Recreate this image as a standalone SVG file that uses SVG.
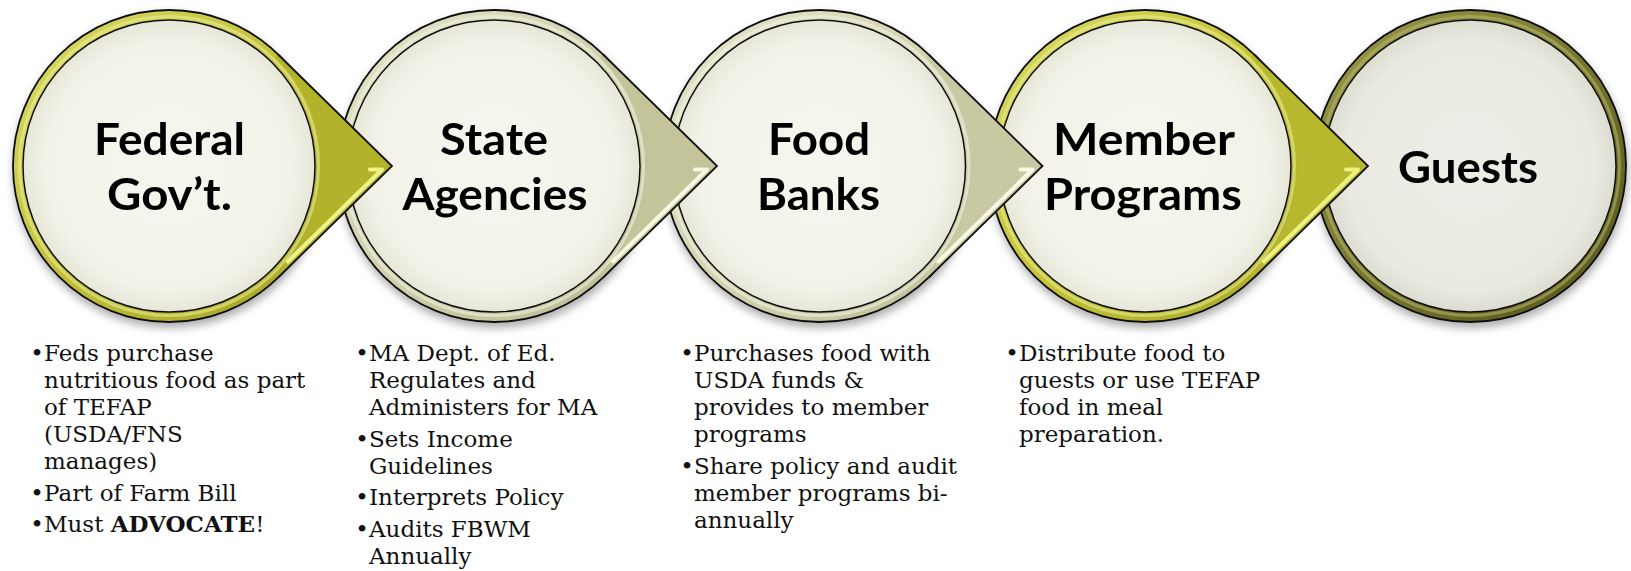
<svg xmlns="http://www.w3.org/2000/svg" width="1631" height="571" viewBox="0 0 1631 571">
  <style>
    .outer { stroke: #111; stroke-width: 1.8; }
    .inner { stroke: #111; stroke-width: 1.5; }
    .bevel { fill: none; stroke-width: 3; opacity: 0.55; }
    .title { font-family: Lato, "Open Sans", "Liberation Sans", sans-serif; font-weight: 700; font-size: 44px; fill: #000; text-anchor: middle; }
    .body { font-family: "DejaVu Serif", "Liberation Serif", serif; font-size: 23px; fill: #111; }
    .dot { font-family: "DejaVu Serif", "Liberation Serif", serif; font-size: 23px; fill: #111; text-anchor: middle; }
    .tail-edge { fill: none; stroke: #111; stroke-width: 1.8; stroke-linejoin: miter; }
    .shine { fill: none; stroke-width: 4; stroke-linecap: round; stroke-linejoin: round; }
  </style>
  <defs>
    <filter id="shadow" x="-20%" y="-20%" width="140%" height="145%">
      <feDropShadow dx="1" dy="5" stdDeviation="4" flood-color="#000" flood-opacity="0.32"/>
    </filter>
    <linearGradient id="ringFed" x1="0" y1="0" x2="1" y2="1">
      <stop offset="0" stop-color="#dcdc6c"/>
      <stop offset="0.5" stop-color="#c0c03a"/>
      <stop offset="1" stop-color="#a3a324"/>
    </linearGradient>
    <linearGradient id="ringState" x1="0" y1="0" x2="1" y2="1">
      <stop offset="0" stop-color="#e4e4cb"/>
      <stop offset="0.5" stop-color="#d0d0ad"/>
      <stop offset="1" stop-color="#b8b88f"/>
    </linearGradient>
    <linearGradient id="ringFood" x1="0" y1="0" x2="1" y2="1">
      <stop offset="0" stop-color="#e6e6ce"/>
      <stop offset="0.5" stop-color="#d4d4b3"/>
      <stop offset="1" stop-color="#bcbc96"/>
    </linearGradient>
    <linearGradient id="ringMem" x1="0" y1="0" x2="1" y2="1">
      <stop offset="0" stop-color="#dada66"/>
      <stop offset="0.5" stop-color="#c5c537"/>
      <stop offset="1" stop-color="#a5a526"/>
    </linearGradient>
    <linearGradient id="ringGuest" x1="0" y1="0" x2="1" y2="1">
      <stop offset="0" stop-color="#9c9c4c"/>
      <stop offset="0.5" stop-color="#76762e"/>
      <stop offset="1" stop-color="#55551a"/>
    </linearGradient>
    <radialGradient id="face" cx="0.5" cy="0.5" r="0.5">
      <stop offset="0" stop-color="#f6f6ef"/>
      <stop offset="0.85" stop-color="#f2f2e8"/>
      <stop offset="1" stop-color="#e6e6d8"/>
    </radialGradient>
    <radialGradient id="faceGuest" cx="0.5" cy="0.5" r="0.5">
      <stop offset="0" stop-color="#eeeee8"/>
      <stop offset="0.85" stop-color="#eaeae2"/>
      <stop offset="1" stop-color="#dcdcd0"/>
    </radialGradient>
  </defs>

  <!-- stage circles, right to left so each pointer can sit over its neighbour -->
  <g id="node-guests" filter="url(#shadow)">
    <circle class="outer" cx="1470" cy="166" r="156" fill="url(#ringGuest)"/>
    <circle class="bevel" cx="1470" cy="166" r="149.5" stroke="#b8b870"/>
    <circle class="inner" cx="1470" cy="166" r="146" fill="url(#faceGuest)"/>
    <text class="title" x="1468" y="183" textLength="140" lengthAdjust="spacingAndGlyphs">Guests</text>
  </g>

  <g id="node-member" filter="url(#shadow)">
    <circle class="outer" cx="1145" cy="166" r="156" fill="url(#ringMem)"/>
    <circle class="bevel" cx="1145" cy="166" r="149.5" stroke="#ecec9a"/>
    <circle class="inner" cx="1145" cy="166" r="146" fill="url(#face)"/>
    <text class="title" x="1144" y="155" textLength="182" lengthAdjust="spacingAndGlyphs">Member</text>
    <text class="title" x="1143" y="210" textLength="198" lengthAdjust="spacingAndGlyphs">Programs</text>
  </g>

  <g id="node-foodbanks" filter="url(#shadow)">
    <circle class="outer" cx="819.5" cy="166" r="156" fill="url(#ringFood)"/>
    <circle class="bevel" cx="819.5" cy="166" r="149.5" stroke="#f4f4e4"/>
    <circle class="inner" cx="819.5" cy="166" r="146" fill="url(#face)"/>
    <text class="title" x="819" y="155" textLength="102" lengthAdjust="spacingAndGlyphs">Food</text>
    <text class="title" x="818.5" y="210" textLength="123" lengthAdjust="spacingAndGlyphs">Banks</text>
  </g>

  <g id="node-state" filter="url(#shadow)">
    <circle class="outer" cx="494" cy="166" r="156" fill="url(#ringState)"/>
    <circle class="bevel" cx="494" cy="166" r="149.5" stroke="#f4f4e4"/>
    <circle class="inner" cx="494" cy="166" r="146" fill="url(#face)"/>
    <text class="title" x="494" y="155" textLength="108" lengthAdjust="spacingAndGlyphs">State</text>
    <text class="title" x="495" y="210" textLength="185" lengthAdjust="spacingAndGlyphs">Agencies</text>
  </g>

  <g id="node-federal" filter="url(#shadow)">
    <circle class="outer" cx="169" cy="166" r="156" fill="url(#ringFed)"/>
    <circle class="bevel" cx="169" cy="166" r="149.5" stroke="#eeee9c"/>
    <circle class="inner" cx="169" cy="166" r="146" fill="url(#face)"/>
    <text class="title" x="169.5" y="155" textLength="151" lengthAdjust="spacingAndGlyphs">Federal</text>
    <text class="title" x="169.5" y="210" textLength="125" lengthAdjust="spacingAndGlyphs">Gov’t.</text>
  </g>

  <!-- pointers from each stage into the next -->
  <g id="connectors">
    <g id="pointer-1">
      <path d="M278.1,54.5 L392,166 L278.1,277.5 L275.3,274.6 A152,152 0 0 0 275.3,57.4 Z" fill="#b3b32b"/>
      <path class="tail-edge" d="M278.1,54.5 L392,166 L278.1,277.5"/>
      <path class="shine" d="M370,169.5 L382,169.5 L288,261.5" stroke="#f2f28a"/>
    </g>
    <g id="pointer-2">
      <path d="M603.1,54.5 L717,166 L603.1,277.5 L600.3,274.6 A152,152 0 0 0 600.3,57.4 Z" fill="#c4c49b"/>
      <path class="tail-edge" d="M603.1,54.5 L717,166 L603.1,277.5"/>
      <path class="shine" d="M695,169.5 L707,169.5 L613,261.5" stroke="#f8f8e2"/>
    </g>
    <g id="pointer-3">
      <path d="M928.6,54.5 L1042.5,166 L928.6,277.5 L925.8,274.6 A152,152 0 0 0 925.8,57.4 Z" fill="#c8c8a2"/>
      <path class="tail-edge" d="M928.6,54.5 L1042.5,166 L928.6,277.5"/>
      <path class="shine" d="M1020.5,169.5 L1032.5,169.5 L938.5,261.5" stroke="#f8f8e4"/>
    </g>
    <g id="pointer-4">
      <path d="M1254.1,54.5 L1368,166 L1254.1,277.5 L1251.3,274.6 A152,152 0 0 0 1251.3,57.4 Z" fill="#b8b82f"/>
      <path class="tail-edge" d="M1254.1,54.5 L1368,166 L1254.1,277.5"/>
      <path class="shine" d="M1346,169.5 L1358,169.5 L1264,261.5" stroke="#f0f082"/>
    </g>
  </g>

  <!-- notes under each stage -->
  <g id="notes-federal">
    <text class="dot" x="37" y="361">•</text>
    <text class="body" x="44" y="361">Feds purchase</text>
    <text class="body" x="44" y="388">nutritious food as part</text>
    <text class="body" x="44" y="415">of TEFAP</text>
    <text class="body" x="44" y="442">(USDA/FNS</text>
    <text class="body" x="44" y="469">manages)</text>
    <text class="dot" x="37" y="500.5">•</text>
    <text class="body" x="44" y="500.5">Part of Farm Bill</text>
    <text class="dot" x="37" y="532">•</text>
    <text class="body" x="44" y="532">Must <tspan font-weight="700">ADVOCATE</tspan>!</text>
  </g>
  <g id="notes-state">
    <text class="dot" x="362" y="361">•</text>
    <text class="body" x="369" y="361">MA Dept. of Ed.</text>
    <text class="body" x="369" y="388">Regulates and</text>
    <text class="body" x="369" y="415">Administers for MA</text>
    <text class="dot" x="362" y="446.5">•</text>
    <text class="body" x="369" y="446.5">Sets Income</text>
    <text class="body" x="369" y="473.5">Guidelines</text>
    <text class="dot" x="362" y="505">•</text>
    <text class="body" x="369" y="505">Interprets Policy</text>
    <text class="dot" x="362" y="536.5">•</text>
    <text class="body" x="369" y="536.5">Audits FBWM</text>
    <text class="body" x="369" y="563.5">Annually</text>
  </g>
  <g id="notes-foodbanks">
    <text class="dot" x="687" y="361">•</text>
    <text class="body" x="694" y="361">Purchases food with</text>
    <text class="body" x="694" y="388">USDA funds &amp;</text>
    <text class="body" x="694" y="415">provides to member</text>
    <text class="body" x="694" y="442">programs</text>
    <text class="dot" x="687" y="473.5">•</text>
    <text class="body" x="694" y="473.5">Share policy and audit</text>
    <text class="body" x="694" y="500.5">member programs bi-</text>
    <text class="body" x="694" y="527.5">annually</text>
  </g>
  <g id="notes-member">
    <text class="dot" x="1012" y="361">•</text>
    <text class="body" x="1019" y="361">Distribute food to</text>
    <text class="body" x="1019" y="388">guests or use TEFAP</text>
    <text class="body" x="1019" y="415">food in meal</text>
    <text class="body" x="1019" y="442">preparation.</text>
  </g>
</svg>
